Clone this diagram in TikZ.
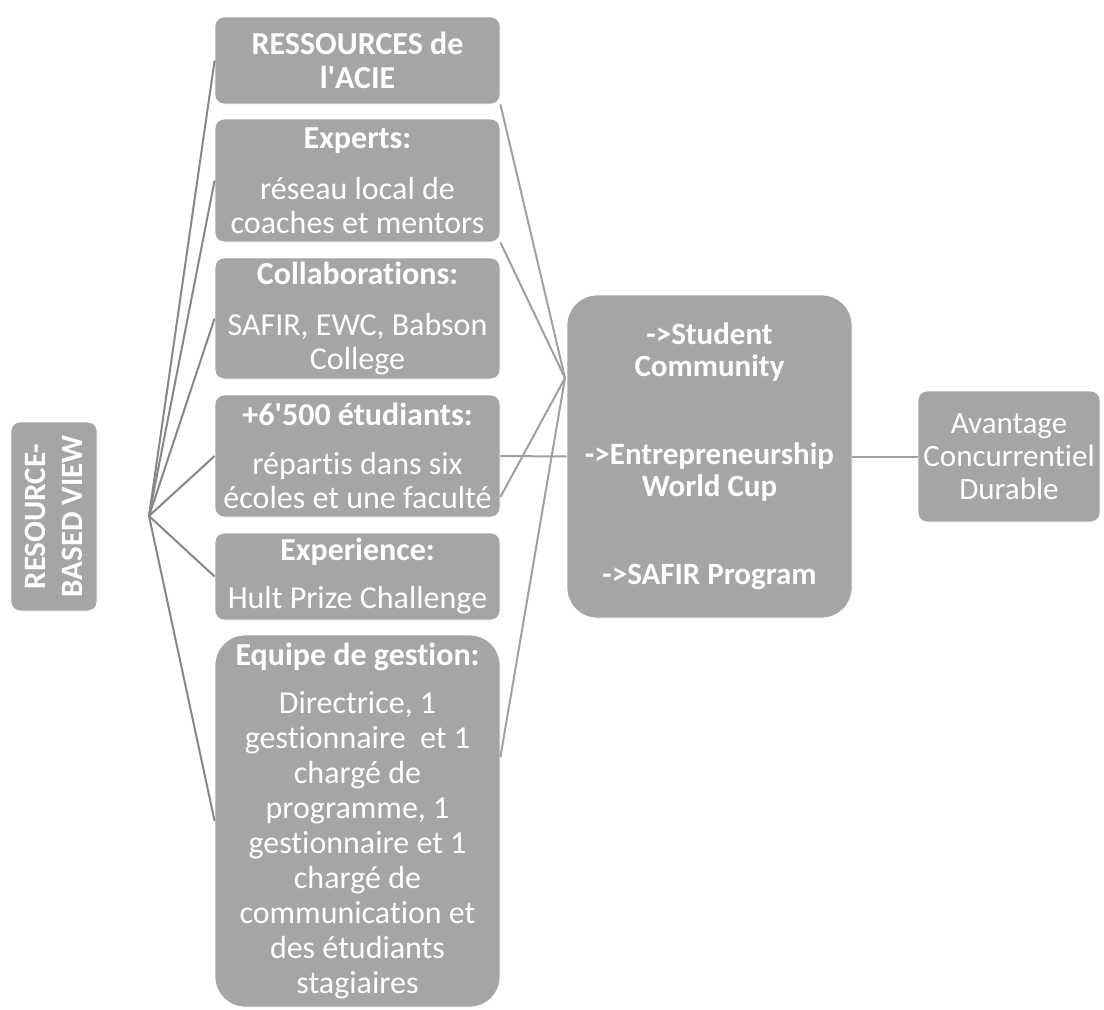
\documentclass[tikz,border=0pt]{standalone}
\usepackage{fontspec}
\setmainfont{Carlito}[Ligatures={TeX,NoCommon}]
\usetikzlibrary{calc}
\definecolor{boxgray}{HTML}{A5A5A5}
\definecolor{lineL}{HTML}{878787}
\definecolor{lineR}{HTML}{A0A0A0}
\begin{document}
\begin{tikzpicture}[x=1pt,y=-1pt,
  box/.style={rectangle, rounded corners=9pt, fill=boxgray, draw=white, line width=0.8pt,
    text=white, align=center, inner sep=0pt, font=\fontsize{32}{34}\selectfont},
  colbox/.style={box, minimum width=285pt},
  lconn/.style={draw=lineL, line width=2pt},
  rconn/.style={draw=lineR, line width=2pt}]
\fill[white] (0,0) rectangle (1104,1010);
\useasboundingbox (0,0) rectangle (1104,1010);

% left label
\node[box, rotate=90, minimum width=189pt, minimum height=86pt,
  font=\bfseries\fontsize{31}{37}\selectfont] (rbv) at (54,516.5) {RESOURCE-\\BASED VIEW};

% resource column
\node[colbox, minimum height=87pt] (b1) at (357.5,60.5)
  {\textbf{RESSOURCES de}\\\textbf{l\textquotesingle ACIE}};
\node[colbox, minimum height=123pt] (b2) at (357.5,180.5)
  {\textbf{Experts:}\\[17pt]réseau local de\\coaches et mentors};
\node[colbox, minimum height=121pt] (b3) at (357.5,318.5)
  {\textbf{Collaborations:}\\[17pt]SAFIR, EWC, Babson\\College};
\node[colbox, minimum height=122pt] (b4) at (357.5,456)
  {\textbf{+6\textquotesingle 500 étudiants:}\\[15pt]répartis dans six\\écoles et une faculté};
\node[colbox, minimum height=87pt] (b5) at (357.5,576.5)
  {\textbf{Experience:}\\[14pt]Hult Prize Challenge};
\node[colbox, rounded corners=30pt, minimum height=372pt,
  font=\fontsize{32}{35}\selectfont] (b6) at (357.5,821)
  {\textbf{Equipe de gestion:}\\[13pt]Directrice, 1\\gestionnaire \ et 1\\chargé de\\programme, 1\\gestionnaire et 1\\chargé de\\communication et\\des étudiants\\stagiaires};

% central box
\node[box, rounded corners=30pt, minimum width=285pt, minimum height=323pt,
  font=\bfseries\fontsize{31}{32}\selectfont] (ctr) at (709.5,456.5)
  {->Student\\Community\\[56pt]->Entrepreneurship\\World Cup\\[56pt]->SAFIR Program};

% right box
\node[box, minimum width=182pt, minimum height=131pt,
  font=\fontsize{31}{33}\selectfont] (rbox) at (1009,456.5)
  {Avantage\\Concurrentiel\\Durable};

% connectors
\coordinate (fan) at (149,516);
\coordinate (conv) at (565,378);
\foreach \n in {b1,b2,b3,b4,b5,b6} \draw[lconn] (fan) -- (\n.west);
\draw[rconn] (b1.south east) -- (conv);
\draw[rconn] (b2.south east) -- (conv);
\draw[rconn] ($(b4.east)+(0,41)$) -- (conv);
\draw[rconn] ($(b6.east)+(0,-64)$) -- (conv);
\draw[rconn] (b4.east) -- (ctr.west);
\draw[rconn] (ctr.east) -- (rbox.west);
\end{tikzpicture}
\end{document}
